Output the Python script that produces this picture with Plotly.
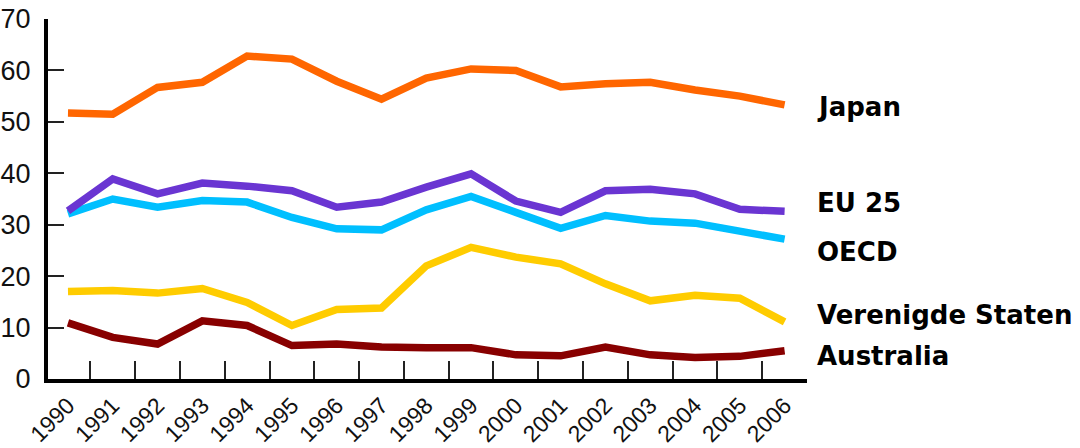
import plotly.graph_objects as go

years = [str(y) for y in range(1990, 2007)]
japan = [51.7, 51.5, 56.7, 57.7, 62.8, 62.2, 57.9, 54.4, 58.5, 60.3, 60.0, 56.8, 57.4, 57.7, 56.2, 55.0, 53.3]
eu25 = [32.7, 38.9, 36.0, 38.1, 37.5, 36.6, 33.4, 34.4, 37.3, 39.9, 34.6, 32.4, 36.6, 36.9, 36.0, 33.0, 32.6]
oecd = [32.1, 35.0, 33.4, 34.7, 34.4, 31.4, 29.2, 29.0, 32.9, 35.5, 32.4, 29.3, 31.8, 30.7, 30.3, 28.8, 27.2]
us = [17.0, 17.2, 16.7, 17.6, 14.9, 10.4, 13.5, 13.8, 22.0, 25.6, 23.7, 22.4, 18.5, 15.2, 16.3, 15.7, 11.1]
australia = [10.9, 8.1, 6.8, 11.3, 10.4, 6.5, 6.8, 6.2, 6.1, 6.1, 4.7, 4.5, 6.2, 4.7, 4.2, 4.4, 5.5]

series = [
    ("Australia", australia, "#880000", 4.4),
    ("Verenigde Staten", us, "#FFCC00", 12.4),
    ("OECD", oecd, "#00BFFF", 24.7),
    ("EU 25", eu25, "#6A35D2", 34.2),
    ("Japan", japan, "#FF6600", 52.9),
]

fig = go.Figure()
for name, vals, color, _ in series:
    fig.add_trace(go.Scatter(x=years, y=vals, mode="lines", name=name,
                             line=dict(color=color, width=7.5), showlegend=False))

font_family = "Liberation Sans Narrow, Arial Narrow, Liberation Sans, Arial, sans-serif"

annotations = []
for name, vals, color, ly in series:
    annotations.append(dict(text=name, xref="paper", yref="y", x=1.0105, y=ly,
                            xanchor="left", yanchor="middle", showarrow=False,
                            font=dict(family="DejaVu Sans, Verdana, sans-serif", size=26,
                                      color="#000000", weight="bold")))

fig.update_layout(
    width=1080, height=448,
    margin=dict(l=48, r=273, t=19, b=69),
    paper_bgcolor="white", plot_bgcolor="white",
    annotations=annotations,
    xaxis=dict(type="category", range=[-0.446, 16.5], showgrid=False, zeroline=False,
               automargin=False, ticklabeloverflow="allow",
               showline=True, linecolor="#000000", linewidth=4,
               ticks="inside", tickson="boundaries", ticklen=18, tickwidth=2, tickcolor="#222222",
               tickangle=-45, tickfont=dict(family=font_family, size=23, color="#111111")),
    yaxis=dict(range=[0, 70], tickvals=[0, 10, 20, 30, 40, 50, 60, 70], showgrid=False,
               automargin=False, ticklabeloverflow="allow",
               zeroline=False, showline=True, linecolor="#000000", linewidth=4,
               ticks="inside", ticklen=16, tickwidth=2, tickcolor="#222222",
               ticklabelstandoff=8, tickfont=dict(family=font_family, size=27, color="#111111")),
)

fig.write_html("out.html", config={"displayModeBar": False},
               post_script="document.body.style.margin='0px';")
